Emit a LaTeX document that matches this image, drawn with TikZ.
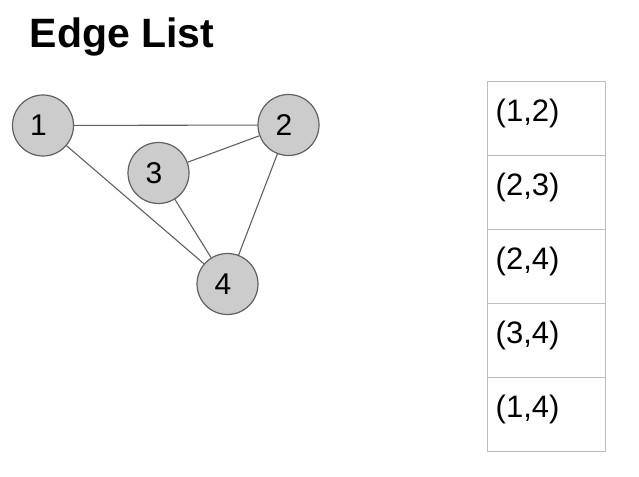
\documentclass[tikz,border=0pt]{standalone}
\usepackage{fontspec}
\setmainfont{Liberation Sans}
\usepackage{tikz}
\usetikzlibrary{positioning}
\definecolor{vfill}{HTML}{CCCCCC}
\definecolor{vline}{HTML}{606060}
\definecolor{tline}{HTML}{BDBDBD}

\tikzset{
  vertex/.style={circle, draw=vline, fill=vfill, line width=1.2pt, minimum size=61pt, inner sep=0pt,
    label={[inner sep=0pt, xshift=-4.5pt, font=\fontsize{30}{36}\selectfont]center:#1}},
  edge/.style={draw=vline, line width=1.1pt},
  cell/.style={rectangle, draw=tline, line width=1pt, minimum width=118pt, minimum height=74pt,
    inner sep=0pt, outer sep=0pt},
  entry/.style={inner sep=0pt, font=\fontsize{31}{37}\selectfont}
}

\begin{document}
\begin{tikzpicture}[x=1pt,y=1pt]
    \useasboundingbox (0,0) rectangle (639,476);
    \node[anchor=base west, inner sep=0pt, font=\fontsize{41}{48}\selectfont\bfseries] (title) at (29.5,428.3) {Edge List};

    % graph
    \node[vertex=1] (v1) at (43,350.5) {};
    \node[vertex=2] (v2) at (288.5,351) {};
    \node[vertex=3] (v3) at (158.5,303) {};
    \node[vertex=4] (v4) at (227.5,192) {};
    \draw[edge] (v1) -- (v2);
    \draw[edge] (v2) -- (v3);
    \draw[edge] (v2) -- (v4);
    \draw[edge] (v3) -- (v4);
    \draw[edge] (v1) -- (v4);

    % edge list
    \foreach \pair [count=\i] in {{(1,2)},{(2,3)},{(2,4)},{(3,4)},{(1,4)}} {
        \node[cell] (c\i) at (546,{394-74*(\i-0.5)}) {};
        \node[entry, below right=40pt and 8.5pt of c\i.north west, anchor=base west] (e\i) {\pair};
    }
\end{tikzpicture}
\end{document}
